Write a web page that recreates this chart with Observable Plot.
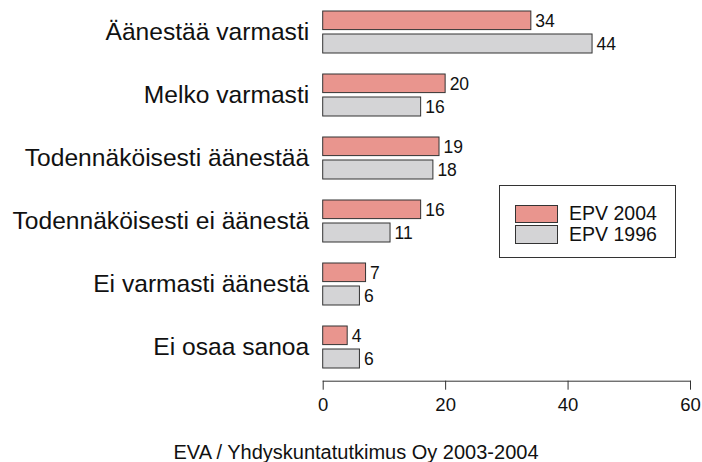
<!DOCTYPE html>
<html>
<head>
<meta charset="utf-8">
<script src="https://cdn.jsdelivr.net/npm/d3@7"></script>
<script src="https://cdn.jsdelivr.net/npm/@observablehq/plot@0.6"></script>
<style>
  html, body { margin: 0; padding: 0; background: #fff; }
  body { font-family: "Liberation Sans", Arial, sans-serif; }
  #wrap { position: relative; width: 702px; height: 462px; }
  #legend { position: absolute; left: 499px; top: 185px; width: 175px; height: 71px;
    border: 1px solid #333; box-sizing: content-box; }
  .item { position: absolute; left: 15px; display: flex; align-items: center; }
  .sw { width: 43px; height: 18px; border: 1px solid #333; box-sizing: border-box; }
  .lab { margin-left: 11px; font-size: 19.5px; color: #111; }
  #caption { position: absolute; left: 0; top: 438px; width: 712px; text-align: center;
    font-size: 20px; color: #111; line-height: 28px; }
</style>
</head>
<body>
<div id="wrap">
  <div id="chart"></div>
  <div id="legend"></div>
  <div id="caption"></div>
</div>
<script>
const categories = [
  "Äänestää varmasti",
  "Melko varmasti",
  "Todennäköisesti äänestää",
  "Todennäköisesti ei äänestä",
  "Ei varmasti äänestä",
  "Ei osaa sanoa"
];
const seriesNames = ["EPV 2004", "EPV 1996"];
const values2004 = [34, 20, 19, 16, 7, 4];
const values1996 = [44, 16, 18, 11, 6, 6];
const xTicks = [0, 20, 40, 60];
const captionText = "EVA / Yhdyskuntatutkimus Oy 2003-2004";
const colors = ["#E9958E", "#D4D4D6"];

const d2004 = categories.map((c, i) => ({category: c, value: values2004[i]}));
const d1996 = categories.map((c, i) => ({category: c, value: values1996[i]}));

const chart = Plot.plot({
  width: 702,
  height: 430,
  marginLeft: 322.7,
  marginRight: 12,
  marginTop: 9.3,
  marginBottom: 49.3,
  style: {fontFamily: '"Liberation Sans", Arial, sans-serif', color: "#111", background: "transparent"},
  x: {domain: [0, 60], axis: null},
  y: {type: "band", domain: categories, paddingInner: 1/3, paddingOuter: 0, insetBottom: 10, axis: null},
  marks: [
    Plot.barX(d2004, {x: "value", y: "category", fill: colors[0], stroke: "#333", strokeWidth: 1, insetBottom: 23.4}),
    Plot.barX(d1996, {x: "value", y: "category", fill: colors[1], stroke: "#333", strokeWidth: 1, insetTop: 23}),
    Plot.text(d2004, {x: "value", y: "category", text: d => String(d.value), textAnchor: "start", dx: 4, dy: -11.2, fontSize: 17.5, fill: "#111"}),
    Plot.text(d1996, {x: "value", y: "category", text: d => String(d.value), textAnchor: "start", dx: 4, dy: 12, fontSize: 17.5, fill: "#111"}),
    Plot.axisY({tickSize: 0, tickPadding: 14, fontSize: 24.6, fill: "#111", label: null}),
    Plot.axisX({ticks: xTicks, tickSize: 9, tickPadding: 8, fontSize: 18.5, stroke: "#333", fill: "#111", label: null}),
    Plot.frame({anchor: "bottom", stroke: "#333"})
  ]
});
document.getElementById("chart").appendChild(chart);

const legend = document.getElementById("legend");
seriesNames.forEach((name, i) => {
  const it = document.createElement("div");
  it.className = "item";
  it.style.top = (i === 0 ? 16 : 37) + "px";
  const sw = document.createElement("div");
  sw.className = "sw";
  sw.style.background = colors[i];
  sw.style.height = (i === 0 ? 18 : 19) + "px";
  const lab = document.createElement("span");
  lab.className = "lab";
  lab.textContent = name;
  it.appendChild(sw);
  it.appendChild(lab);
  legend.appendChild(it);
});
document.getElementById("caption").textContent = captionText;
</script>
</body>
</html>
